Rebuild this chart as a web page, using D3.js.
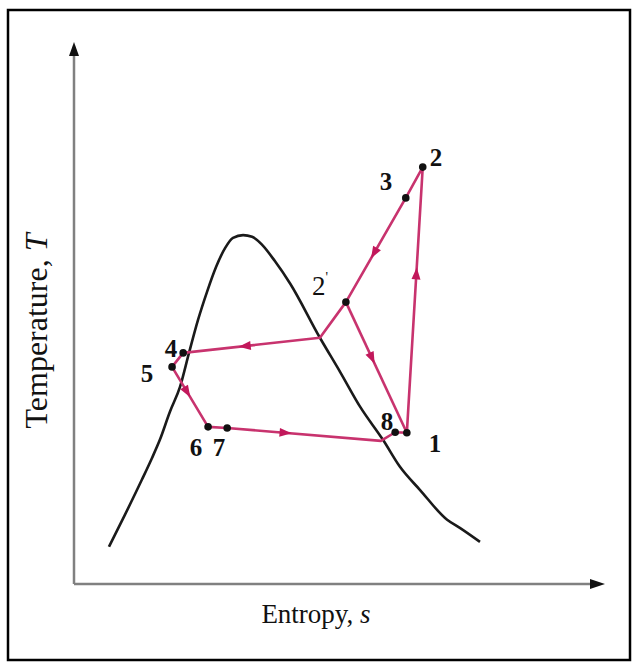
<!DOCTYPE html>
<html><head><meta charset="utf-8">
<script src="https://cdn.jsdelivr.net/npm/d3@7"></script>
<style>html,body{margin:0;padding:0;background:#fff;}svg{display:block;}</style>
</head><body>
<svg id="c" width="638" height="668"></svg>
<script>
// Saturation dome (entropy s, temperature T) in arbitrary units 0..100
const domeS = [6.6, 9.6, 12.8, 14.7, 16.2, 18.1, 20.0, 21.7, 23.4, 25.1, 26.8, 28.5, 30.0, 31.9, 33.6, 35.5, 37.9, 40.8, 46.4, 50.2, 54.0, 58.3, 61.5, 65.3, 70.4, 72.8, 76.6];
const domeT = [6.9, 12.8, 19.3, 23.3, 26.7, 31.9, 36.5, 42.8, 48.9, 54.1, 58.7, 62.2, 64.1, 64.6, 64.3, 62.8, 59.8, 55.6, 45.6, 39.3, 32.8, 26.7, 21.7, 17.4, 11.9, 10.4, 7.8];

// Cycle state points
const stateNames = ["1", "2", "3", "2'", "X", "4", "5", "6", "7", "B", "8"];
const stateS = [62.8, 65.8, 62.6, 51.3, 46.4, 20.6, 18.5, 25.3, 28.9, 57.9, 60.6];
const stateT = [28.0, 77.2, 71.5, 52.2, 45.6, 42.8, 40.2, 29.1, 28.9, 26.5, 28.1];
// closed cycle order
const cycleOrder = ["1", "2", "3", "2'", "X", "4", "5", "6", "7", "B", "8", "1"];
// extra branch
const branch = ["2'", "1"];
// labelled dots
const dotNames = ["1", "2", "3", "2'", "4", "5", "6", "7", "8"];
// flow arrows: [from, to, fraction]
const arrowFrom = ["1", "3", "X", "5", "7", "2'"];
const arrowTo = ["2", "2'", "4", "6", "B", "1"];
const arrowFrac = [0.60, 0.53, 0.55, 0.42, 0.38, 0.43];

const svg = d3.select("#c");
const x = d3.scaleLinear().domain([0, 100]).range([74, 604]);
const y = d3.scaleLinear().domain([0, 100]).range([584, 44]);

const pt = {};
stateNames.forEach((n, i) => pt[n] = [stateS[i], stateT[i]]);

// border
svg.append("rect").attr("x", 8).attr("y", 10).attr("width", 622).attr("height", 650)
  .attr("fill", "none").attr("stroke", "#000").attr("stroke-width", 2.5);

// axes
const axisColor = "#808080";
svg.append("line").attr("x1", x(0)).attr("y1", y(0)).attr("x2", x(0)).attr("y2", y(100) + 8)
  .attr("stroke", axisColor).attr("stroke-width", 2.5);
svg.append("line").attr("x1", x(0)).attr("y1", y(0)).attr("x2", x(100) - 8).attr("y2", y(0))
  .attr("stroke", axisColor).attr("stroke-width", 2.5);
svg.append("path").attr("d", `M${x(0)},${y(100)-2} L${x(0)-5},${y(100)+12} L${x(0)+5},${y(100)+12} Z`).attr("fill", "#111");
svg.append("path").attr("d", `M${x(100)+1},${y(0)} L${x(100)-14},${y(0)-5} L${x(100)-14},${y(0)+5} Z`).attr("fill", "#111");

// axis labels
const serif = "'Liberation Serif','Times New Roman',Times,serif";
const xl = svg.append("text").attr("x", 316).attr("y", 623).attr("text-anchor", "middle")
  .attr("font-family", serif).attr("font-size", 27).attr("fill", "#111");
xl.append("tspan").text("Entropy, ");
xl.append("tspan").attr("font-style", "italic").text("s");
const yl = svg.append("text").attr("transform", "translate(47,331) rotate(-90)").attr("text-anchor", "middle")
  .attr("font-family", serif).attr("font-size", 32).attr("fill", "#111");
yl.append("tspan").text("Temperature, ");
yl.append("tspan").attr("font-style", "italic").text("T");

// dome
const dome = d3.line().x(d => x(d[0])).y(d => y(d[1])).curve(d3.curveMonotoneX);
svg.append("path").datum(domeS.map((s, i) => [s, domeT[i]]))
  .attr("d", dome)
  .attr("fill", "none").attr("stroke", "#1a1a1a").attr("stroke-width", 2.6).attr("stroke-linejoin", "round");

// cycle
const pink = "#c8336e";
const lin = d3.line().x(d => x(d[0])).y(d => y(d[1]));
svg.append("path").datum(cycleOrder.map(n => pt[n])).attr("d", lin)
  .attr("fill", "none").attr("stroke", pink).attr("stroke-width", 2.6).attr("stroke-linejoin", "round");
svg.append("path").datum(branch.map(n => pt[n])).attr("d", lin)
  .attr("fill", "none").attr("stroke", pink).attr("stroke-width", 2.6);

// arrows
arrowFrom.forEach((f, i) => {
  const a = pt[f], b = pt[arrowTo[i]];
  const ax = x(a[0]), ay = y(a[1]), bx = x(b[0]), by = y(b[1]);
  const t = arrowFrac[i];
  const cx = ax + (bx - ax) * t, cy = ay + (by - ay) * t;
  const ang = Math.atan2(by - ay, bx - ax) * 180 / Math.PI;
  svg.append("path").attr("d", "M6,0 L-6,-4.5 L-6,4.5 Z")
    .attr("transform", `translate(${cx},${cy}) rotate(${ang})`).attr("fill", "#c2185b");
});

// dots
svg.selectAll("circle.dot").data(dotNames).enter().append("circle")
  .attr("cx", n => x(pt[n][0])).attr("cy", n => y(pt[n][1])).attr("r", 3.8).attr("fill", "#111");

// labels
const labelNames = ["1", "2", "3", "4", "5", "6", "7", "8"];
const labelPos = {"1": [435, 452], "2": [436, 166], "3": [386, 190], "4": [171, 357], "5": [147, 382], "6": [196, 456], "7": [219, 456], "8": [387, 430]};
labelNames.forEach(n => {
  svg.append("text").attr("x", labelPos[n][0]).attr("y", labelPos[n][1]).attr("text-anchor", "middle")
    .attr("font-family", serif).attr("font-weight", "bold").attr("font-size", 25).attr("fill", "#111").text(n);
});
const l2 = svg.append("text").attr("x", 312).attr("y", 295).attr("font-family", serif).attr("font-size", 27).attr("fill", "#111");
l2.append("tspan").text("2");
l2.append("tspan").attr("font-size", 14).attr("dy", -13).text("'");
</script>
</body></html>
